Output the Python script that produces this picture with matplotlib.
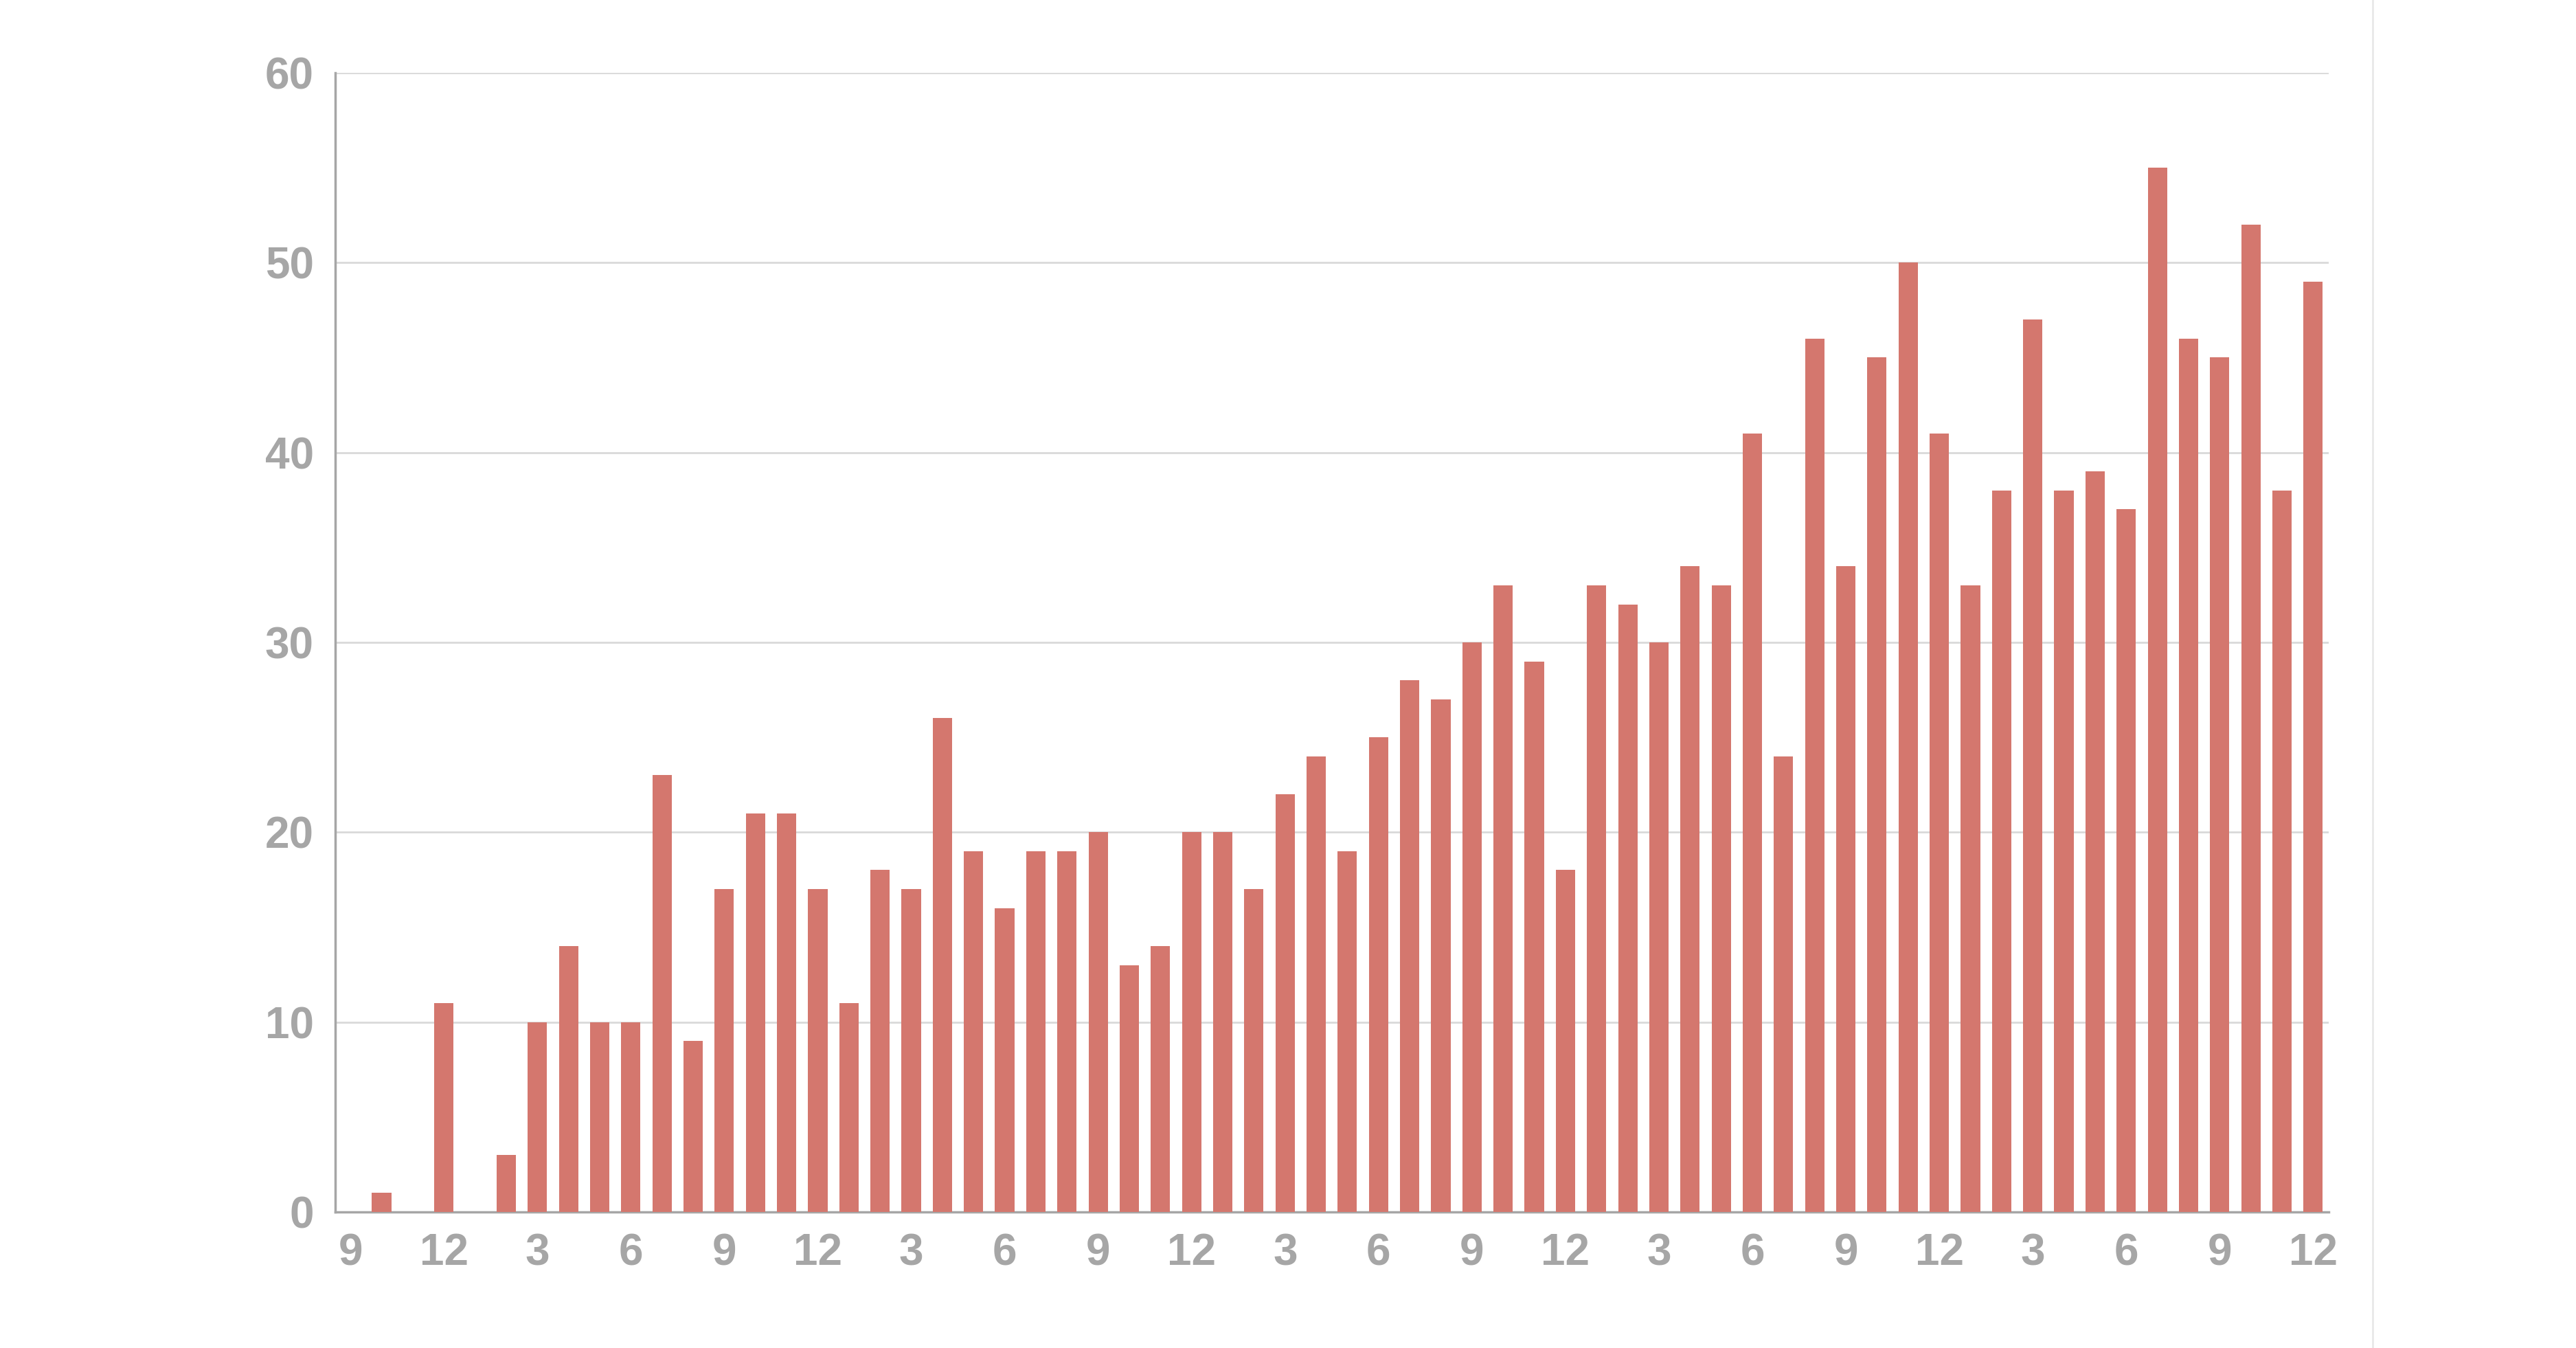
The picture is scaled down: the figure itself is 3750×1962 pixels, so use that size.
import matplotlib
matplotlib.use("Agg")
import matplotlib.pyplot as plt

values = [0, 1, 0, 11,
          0, 3, 10, 14, 10, 10, 23, 9, 17, 21, 21, 17,
          11, 18, 17, 26, 19, 16, 19, 19, 20, 13, 14, 20,
          20, 17, 22, 24, 19, 25, 28, 27, 30, 33, 29, 18,
          33, 32, 30, 34, 33, 41, 24, 46, 34, 45, 50, 41,
          33, 38, 47, 38, 39, 37, 55, 46, 45, 52, 38, 49]
tick_labels = ["9", "12"] + ["3", "6", "9", "12"] * 5
yticks = [0, 10, 20, 30, 40, 50, 60]

plt.rcParams['font.family'] = ['Liberation Sans', 'DejaVu Sans']
fig = plt.figure(figsize=(37.5, 19.62), dpi=100)
ax = fig.add_axes([0.130, 0.101, 0.774, 0.845])
x = list(range(len(values)))
ax.bar(x, values, width=0.62, color="#D4776E", zorder=3)
ax.set_xlim(-0.5, len(values) - 0.5)
ax.set_ylim(0, 60)
ax.set_yticks(yticks)
ax.set_xticks(list(range(0, len(values), 3)))
ax.set_xticklabels(tick_labels)
ax.grid(axis="y", color="#D9D9D9", linewidth=2, zorder=0)
for s in ["top", "right"]:
    ax.spines[s].set_visible(False)
for s in ["left", "bottom"]:
    ax.spines[s].set_color("#A6A6A6")
    ax.spines[s].set_linewidth(2.5)
ax.tick_params(axis="both", length=0, labelsize=46, labelcolor="#A6A6A6", pad=22)
for t in ax.get_xticklabels() + ax.get_yticklabels():
    t.set_fontweight("bold")
fig.add_artist(plt.Line2D([0.921, 0.921], [0, 1], color="#E8E8E8", linewidth=2))
fig.savefig("out.png", dpi=100, facecolor="white")
